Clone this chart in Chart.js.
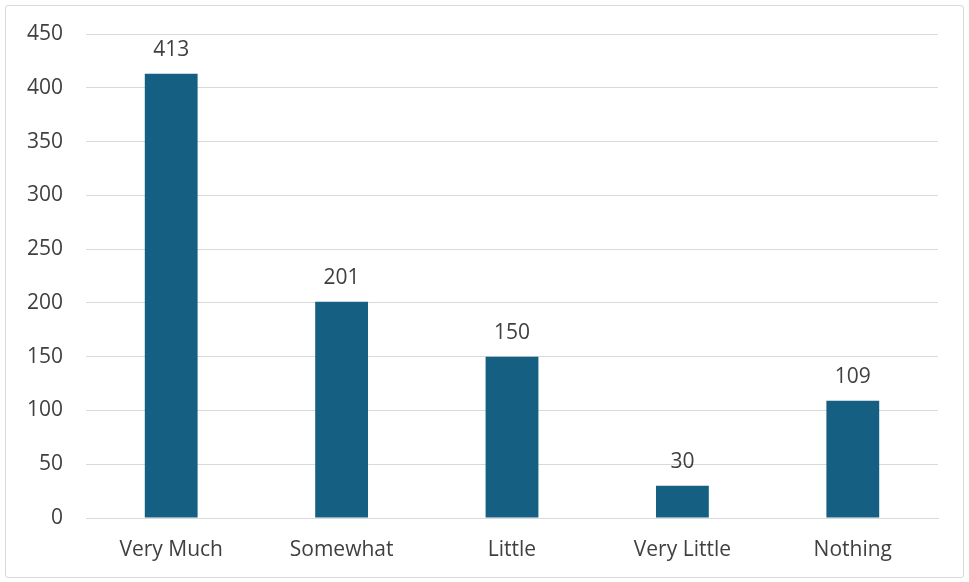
<!DOCTYPE html>
<html>
<head>
<meta charset="utf-8">
<script src="https://cdn.jsdelivr.net/npm/chart.js@4/dist/chart.umd.min.js"></script>
<style>
  html, body { margin: 0; padding: 0; background: #fff; }
  #wrap {
    position: absolute; left: 5px; top: 5px;
    width: 959px; height: 573px;
    box-sizing: border-box; border: 1px solid #d9d9d9; border-radius: 3px;
  }
  #myChart { display: block; }
</style>
</head>
<body>
<div id="wrap"><canvas id="myChart" width="957" height="571"></canvas></div>
<script>
const categories = ["Very Much", "Somewhat", "Little", "Very Little", "Nothing"];
const counts = [413, 201, 150, 30, 109];
const yTicks = [0, 50, 100, 150, 200, 250, 300, 350, 400, 450];

const textColor = "#404040";
const fontFamily = "'Open Sans', 'Liberation Sans', sans-serif";

// draws the number above each bar
const valueLabels = {
  id: "valueLabels",
  afterDatasetsDraw(chart) {
    const ctx = chart.ctx;
    const meta = chart.getDatasetMeta(0);
    ctx.save();
    ctx.fillStyle = textColor;
    ctx.font = "21px " + fontFamily;
    ctx.textAlign = "center";
    ctx.textBaseline = "middle";
    meta.data.forEach((bar, i) => {
      ctx.fillText(String(counts[i]), bar.x, bar.y - 24);
    });
    ctx.restore();
  },
};

const config = {
  type: "bar",
  data: {
    labels: categories,
    datasets: [{
      data: counts,
      backgroundColor: "#156082",
      borderWidth: 0,
      categoryPercentage: 1,
      barPercentage: 0.31,
    }],
  },
  options: {
    responsive: false,
    animation: false,
    layout: {
      padding: { top: 28, right: 25, left: 0, bottom: 0 },
    },
    scales: {
      x: {
        grid: { display: false, drawTicks: false },
        border: { color: "#d9d9d9", width: 1 },
        ticks: {
          color: textColor,
          font: { size: 21, family: fontFamily },
          padding: 19,
          maxRotation: 0,
        },
        afterFit(scale) {
          scale.height = 59;
          scale.paddingLeft = 0;
          scale.paddingRight = 0;
        },
      },
      y: {
        min: 0,
        max: 450,
        afterBuildTicks(scale) { scale.ticks = yTicks.map(v => ({ value: v })); },
        grid: { color: "#d9d9d9", drawTicks: false, tickLength: 0 },
        border: { display: false },
        ticks: {
          color: textColor,
          font: { size: 21, family: fontFamily },
          padding: 23,
        },
        afterFit(scale) {
          scale.width = 80;
          scale.paddingTop = 0;
          scale.paddingBottom = 0;
        },
      },
    },
    plugins: {
      legend: { display: false },
      tooltip: { enabled: false },
    },
  },
  plugins: [valueLabels],
};

const myChart = new Chart(document.getElementById("myChart"), config);
</script>
</body>
</html>
